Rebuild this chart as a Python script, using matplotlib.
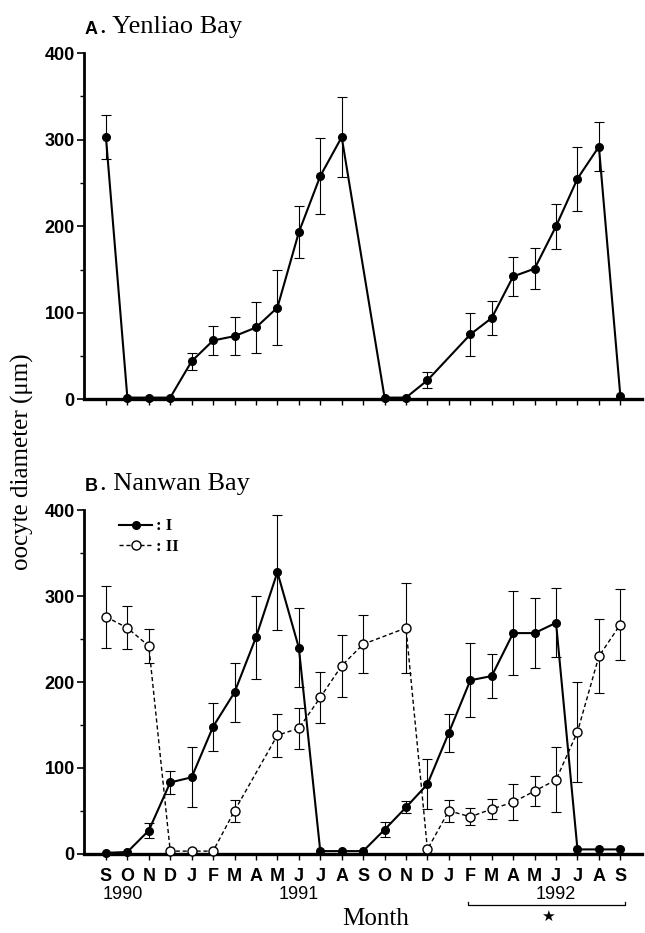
import matplotlib
matplotlib.use("Agg")
import matplotlib.pyplot as plt
import numpy as np

nan = np.nan

# months Sep 1990 .. Sep 1992
months = ['S', 'O', 'N', 'D', 'J', 'F', 'M', 'A', 'M', 'J', 'J', 'A',
          'S', 'O', 'N', 'D', 'J', 'F', 'M', 'A', 'M', 'J', 'J', 'A', 'S']
years = ['1990', '1991', '1992']
year_pos = [0.8, 9, 21]

# A. Yenliao Bay
yen_mean = [303, 2, 2, 2, 44, 68, 73, 83, 106, 193, 258, 303,
            nan, 2, 2, 22, nan, 75, 94, 142, 151, 200, 255, 292, 4]
yen_sd = [25, 0, 0, 0, 10, 17, 22, 30, 43, 30, 44, 46,
          nan, 0, 0, 9, nan, 25, 20, 23, 24, 26, 37, 28, 0]

# B. Nanwan Bay, group I and II
nan_I = [1, 2, 27, 83, 89, 148, 188, 252, 328, 240, 3, 3,
         3, 28, 54, 81, 141, 202, 207, 257, 257, 269, 5, 5, 5]
sd_I = [0, 0, 9, 13, 35, 28, 34, 48, 67, 46, 0, 0,
        0, 9, 7, 29, 22, 43, 26, 49, 41, 40, 0, 0, 0]
nan_II = [276, 263, 242, 3, 3, 3, 50, nan, 138, 146, 182, 219,
          244, nan, 263, 5, 50, 43, 52, 60, 73, 86, 142, 230, 267]
sd_II = [36, 25, 20, 0, 0, 0, 13, nan, 25, 24, 30, 36,
         34, nan, 52, 0, 13, 10, 12, 21, 18, 38, 58, 43, 41]

star_span = (17, 24)

x = np.arange(len(months))
tick_font = {'family': 'Liberation Sans', 'weight': 'bold', 'size': 13}
serif = 'Liberation Serif'


def draw_series(ax, mean, sd, filled, ls, lw):
    m = np.array(mean, dtype=float)
    s = np.array(sd, dtype=float)
    ok = ~np.isnan(m)
    xs, ms, ss = x[ok], m[ok], s[ok]
    eb = ss > 0
    ax.errorbar(xs[eb], ms[eb], yerr=ss[eb], fmt='none', ecolor='black',
                elinewidth=0.8, capsize=3.6, capthick=0.8, zorder=2)
    ax.plot(xs, ms, color='black', linestyle=ls, linewidth=lw,
            marker='o', markersize=5.5 if filled else 6.5,
            markerfacecolor='black' if filled else 'white',
            markeredgecolor='black', markeredgewidth=1.0,
            clip_on=False, zorder=3)


def style_axes(ax):
    ax.set_xlim(-1, 25)
    ax.set_ylim(0, 400)
    for sp in ['top', 'right']:
        ax.spines[sp].set_visible(False)
    ax.spines['bottom'].set_linewidth(2.4)
    ax.spines['left'].set_linewidth(2.0)
    ax.set_xticks(x)
    ax.set_yticks([0, 100, 200, 300, 400])
    ax.set_yticks([50, 150, 250, 350], minor=True)
    ax.tick_params(axis='y', which='major', length=5, width=1.2, pad=2)
    ax.tick_params(axis='y', which='minor', length=3, width=1.0)
    ax.tick_params(axis='x', length=4, width=1.0, pad=6)
    for lab in ax.get_yticklabels():
        lab.set_fontproperties(tick_font)


fig = plt.figure(figsize=(6.45, 9.33), dpi=100)
ax1 = fig.add_axes([0.131, 0.572, 0.864, 0.371])
ax2 = fig.add_axes([0.131, 0.085, 0.864, 0.368])

# panel A
draw_series(ax1, yen_mean, yen_sd, True, '-', 1.5)
style_axes(ax1)
ax1.set_xticklabels([])
ax1.text(0.0, 1.045, 'A', transform=ax1.transAxes, fontsize=13,
         fontweight='bold', family='Liberation Sans', va='bottom')
ax1.text(0.027, 1.045, '. Yenliao Bay', transform=ax1.transAxes,
         fontsize=19, family=serif, va='bottom')

# panel B
draw_series(ax2, nan_II, sd_II, False, (0, (3, 2)), 1.0)
draw_series(ax2, nan_I, sd_I, True, '-', 1.5)
style_axes(ax2)
ax2.set_xticklabels(months)
for lab in ax2.get_xticklabels():
    lab.set_fontproperties(tick_font)
ax2.text(0.0, 1.045, 'B', transform=ax2.transAxes, fontsize=13,
         fontweight='bold', family='Liberation Sans', va='bottom')
ax2.text(0.027, 1.045, '. Nanwan Bay', transform=ax2.transAxes,
         fontsize=19, family=serif, va='bottom')

# legend
h1, = ax2.plot([], [], color='black', lw=1.5, marker='o', ms=5.5,
               mfc='black', mec='black')
h2, = ax2.plot([], [], color='black', lw=1.0, ls=(0, (3, 2)), marker='o',
               ms=6.5, mfc='white', mec='black')
leg = ax2.legend([h1, h2], [': I', ': II'], loc='upper left',
                 bbox_to_anchor=(0.035, 1.02), frameon=False,
                 handlelength=2.0, handletextpad=0.2, labelspacing=0.25,
                 prop={'family': serif, 'weight': 'bold', 'size': 12})

# years and bracket under the month labels
yt = ax2.get_xaxis_transform()
for yr, p in zip(years, year_pos):
    ax2.text(p, -0.12, yr, transform=yt, ha='center', va='center',
             family='Liberation Sans', fontsize=13)
bx = [star_span[0] - 0.1, star_span[0] - 0.1, star_span[1] + 0.2,
      star_span[1] + 0.2]
ax2.plot(bx, [-0.14, -0.15, -0.15, -0.14], color='black', lw=0.9,
         transform=yt, clip_on=False)
ax2.text(np.mean(star_span) + 0.1, -0.182, '\u2605', transform=yt,
         ha='center', va='center', fontsize=11, family='DejaVu Sans')

fig.text(0.582, 0.015, 'Month', ha='center', va='center', fontsize=18,
         family=serif)
fig.text(0.035, 0.505, 'oocyte diameter (\u03bcm)', rotation=90,
         ha='center', va='center', fontsize=18, family=serif)

fig.savefig('out.png', dpi=100)
